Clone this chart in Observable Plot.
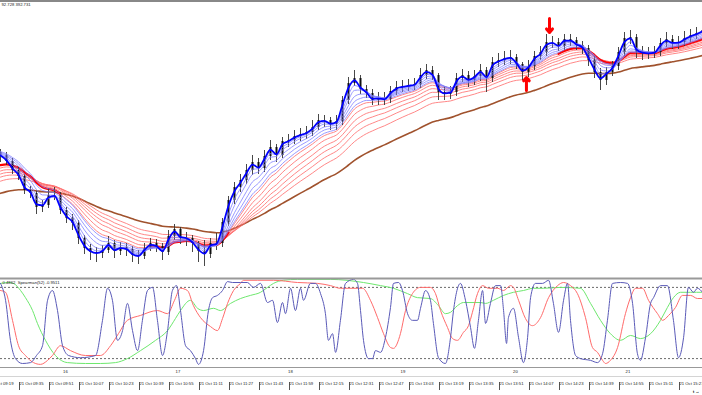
<!DOCTYPE html>
<html><head><meta charset="utf-8">
<script src="https://cdn.jsdelivr.net/npm/d3@7"></script>
<script src="https://cdn.jsdelivr.net/npm/@observablehq/plot@0.6"></script>
<style>
body{margin:0;background:#fff}
#c{position:relative;width:702px;height:395px;overflow:hidden;font-family:"Liberation Sans",sans-serif;background:#fff}
#c > div{position:absolute;left:0}
</style></head><body>
<div id="c"><div id="p1" style="top:0"></div><div id="p2" style="top:276px"></div><div id="sep" style="top:376px;width:702px;height:1px;background:#d4d4d4"></div></div>
<script>
// ---- price bars (3.2-minute samples starting 09:25.4) ----
const barStart = 25.4;      // minutes after 09:00
const barMinutes = 3.2;
const firstOpen = 128;
const closes = [125,119,110,104,90,87,73,75,85,85,
 70,62,57,42,32,28,27,30,37,29,
 33,31,25,24,32,37,34,28,44,51,
 42,42,37,29,26,37,37,58,80,93,
 100,110,118,112,124,133,125,139,140,144,
 146,148,153,160,160,156,159,180,197,202,
 191,187,180,182,181,189,193,194,195,196,
 205,210,205,188,186,188,202,205,200,204,
 210,202,218,220,222,223,216,208,214,224,
 228,238,238,234,241,240,235,232,220,208,
 200,208,214,228,242,243,228,227,227,228,
 237,241,237,238,242,245,247,250];
const highs = [131,128,122,113,106,94,89,80,92,93,
 88,73,66,60,45,36,33,35,44,40,
 38,37,34,30,37,42,41,37,50,56,
 53,48,45,39,40,42,47,62,84,98,
 106,116,125,122,130,140,136,143,146,150,
 152,154,160,166,165,163,165,184,203,210,
 205,195,191,188,188,194,199,200,201,202,
 212,216,214,207,194,194,207,211,209,210,
 216,213,223,227,229,230,226,218,220,229,
 234,246,244,242,246,246,243,239,235,224,
 212,213,219,233,248,250,246,234,233,234,
 242,248,245,244,249,251,253,256];
const lows = [118,115,106,100,86,82,66,68,72,80,
 66,57,50,36,26,20,18,22,27,22,
 25,24,18,16,21,29,28,20,25,40,
 36,34,28,18,14,22,30,33,54,76,
 88,96,105,106,108,120,118,122,133,136,
 139,141,144,150,153,150,150,155,176,194,
 186,182,175,175,175,177,185,188,189,190,
 192,201,200,180,180,181,184,198,193,195,
 199,188,198,213,215,216,211,200,203,210,
 220,224,232,229,230,234,230,226,214,202,
 190,195,204,210,224,236,222,220,221,222,
 224,233,231,231,234,238,241,243];

// GMMA periods (in 3.2-minute samples) and starting values read at left edge
const shortPeriods = [1.5, 2.5, 3.5, 5, 6.5, 8];
const shortSeeds   = [125, 126, 127, 128, 129, 130];
const longPeriods  = [9, 11, 13.5, 16, 19, 23];
const longSeeds    = [113, 110, 107, 104, 101, 97];
const trendPeriod = 36, trendSeed = 85;
// time windows (minutes after 09:00) where the fast long average is drawn bold
const boldRedStart = [25.4, 105, 321];
const boldRedEnd   = [58, 150, 400];

// arrow signals
const signalTimes = [318.2, 305.9];
const signalFrom  = [262, 190];
const signalTo    = [248, 203];

// ---- Spearman panel ----
const blueT = [25.4,28.1,30.7,33.4,37.1,41.4,44.6,47.8,50.5,53.1,55.8,58.5,61.7,68.1,76.1,79.8,82.5,85.1,87.8,90.5,93.1,95.8,98.5,101.1,103.8,106.5,109.1,111.8,114.5,117.1,119.3,121.4,124.1,126.7,129.4,131.0,133.7,136.3,138.5,141.1,143.8,146.5,149.1,153.4,157.1,160.3,164.1,167.8,170.5,173.1,175.8,177.4,180.1,182.7,185.4,187.0,190.7,193.4,196.1,198.7,200.3,202.5,204.1,206.7,209.4,213.7,215.8,217.4,219.0,221.7,223.8,225.4,228.1,230.7,233.4,235.0,237.7,239.8,242.5,245.1,247.8,249.4,252.1,254.7,256.3,259.0,262.7,265.4,267.0,270.7,273.4,276.1,278.2,280.3,282.5,284.1,286.7,289.4,292.1,293.7,295.3,296.3,299.0,301.7,304.3,306.5,308.1,310.7,314.5,317.7,320.3,323.0,325.7,327.8,329.4,332.1,334.7,340.1,343.8,346.5,349.1,351.8,356.1,359.8,362.5,365.1,366.7,369.4,372.1,373.7,377.4,381.1,384.3,387.0,389.7,392.3,395.0,397.1,399.8];
const blueV = [0.89,0.51,-0.39,-0.80,-0.91,-0.89,-0.73,-0.51,0.51,0.73,0.28,-0.51,-0.73,-0.78,-0.73,0.06,0.78,0.51,-0.39,-0.17,0.44,-0.17,-0.62,0.06,0.73,0.80,0.06,-0.73,-0.17,0.73,0.84,0.28,-0.51,-0.62,-0.80,-0.93,-0.62,0.28,0.57,0.62,0.73,0.93,0.91,0.91,0.91,0.80,0.89,0.46,0.51,0.01,0.46,0.21,0.78,0.28,0.78,0.51,0.89,0.89,0.66,0.21,-0.39,-0.24,-0.66,0.06,0.89,0.98,0.89,0.28,-0.39,-0.80,-0.80,-0.62,-0.66,-0.33,0.35,0.89,0.91,0.73,0.21,0.06,0.06,0.33,0.73,0.51,-0.01,-0.78,-0.91,-0.33,0.28,0.89,0.51,-0.10,-0.57,0.06,0.73,-0.01,0.44,0.84,0.84,0.28,-0.46,0.12,0.33,-0.33,-0.89,-0.33,0.57,0.89,0.89,0.96,0.44,-0.21,0.51,0.89,0.06,-0.73,-0.80,-0.84,-0.89,-0.69,0.06,0.89,0.91,0.89,0.44,-0.69,-0.84,-0.33,0.44,0.57,0.84,0.84,0.06,-0.78,-0.33,0.80,0.69,0.78,0.69];
const redT = [25.4,28.1,31.8,35.0,38.7,43.0,46.7,50.5,53.1,57.4,62.7,70.7,78.7,84.1,88.3,93.1,100.1,109.1,114.5,118.2,121.4,125.1,128.3,132.1,137.4,141.1,143.8,146.5,149.7,153.4,155.0,162.5,171.0,183.8,194.5,201.4,206.7,218.5,222.7,226.5,229.7,233.4,235.0,238.7,241.4,245.1,249.4,254.7,257.4,260.1,263.8,266.5,269.1,272.3,275.0,277.1,279.8,282.5,285.7,290.5,293.7,297.4,299.0,301.7,305.4,309.1,313.4,317.7,322.5,325.7,329.4,333.1,337.4,341.1,343.8,346.5,348.1,350.7,354.5,358.7,361.4,364.1,367.8,371.0,375.8,378.5,381.7,385.4,389.1,393.4,397.1,399.8];
const redV = [0.73,0.69,0.06,-0.51,-0.73,-0.89,-0.93,-0.84,-0.73,-0.51,-0.62,-0.73,-0.73,-0.51,-0.24,0.06,0.17,0.28,0.21,0.51,0.78,0.73,0.39,0.12,-0.08,-0.17,0.10,0.44,0.73,0.89,0.96,0.96,0.96,0.91,0.89,0.84,0.78,0.78,0.51,0.12,-0.24,-0.55,-0.57,-0.24,0.28,0.66,0.80,0.80,0.66,0.28,-0.10,-0.35,-0.39,-0.21,-0.06,0.24,0.66,0.84,0.78,0.78,0.73,0.84,0.80,0.51,0.10,-0.06,0.12,0.57,0.84,0.91,0.84,0.66,0.12,-0.55,-0.66,-0.84,-0.91,-0.84,-0.55,0.21,0.57,0.78,0.78,0.51,0.21,0.06,0.17,0.35,0.62,0.62,0.55,0.55];
const greenT = [25.4,29.7,32.3,36.1,38.7,42.5,45.1,49.4,54.7,61.1,70.7,78.7,86.7,93.1,100.1,108.1,114.5,118.7,121.4,126.7,130.5,133.7,139.0,142.7,148.1,153.4,158.7,164.1,167.8,171.0,176.3,183.8,201.4,219.0,228.1,235.0,242.5,247.8,254.7,259.0,262.7,265.4,269.1,272.3,281.4,284.1,288.3,293.7,299.0,304.3,309.7,315.0,324.1,334.7,340.1,345.4,350.7,356.1,361.4,366.7,372.1,377.4,381.1,384.3,388.1,393.4,399.8];
const greenV = [0.89,0.91,0.89,0.73,0.57,0.28,-0.01,-0.39,-0.73,-0.89,-0.91,-0.91,-0.89,-0.80,-0.62,-0.39,-0.17,0.10,0.28,0.51,0.33,0.28,0.33,0.28,0.44,0.55,0.62,0.69,0.80,0.89,0.96,0.98,0.98,0.91,0.84,0.78,0.66,0.57,0.55,0.39,0.21,0.24,0.39,0.46,0.46,0.44,0.51,0.62,0.69,0.73,0.78,0.78,0.80,0.78,0.44,0.06,-0.24,-0.39,-0.28,-0.35,-0.24,0.06,0.35,0.57,0.69,0.69,0.69];
const levels = [0.8, -0.8];

// ---- texts ----
const headerText = "92.728 392.731";
const panelText = "0.4862  Spearman(52) -0.9511";
const timeLabels = ["21 Oct 09:19","21 Oct 09:35","21 Oct 09:51","21 Oct 10:07","21 Oct 10:23","21 Oct 10:39","21 Oct 10:55","21 Oct 11:11","21 Oct 11:27","21 Oct 11:43","21 Oct 11:59","21 Oct 12:15","21 Oct 12:31","21 Oct 12:47","21 Oct 13:03","21 Oct 13:19","21 Oct 13:35","21 Oct 13:51","21 Oct 14:07","21 Oct 14:23","21 Oct 14:39","21 Oct 14:55","21 Oct 15:11","21 Oct 15:27"];
const dayTimes = ["10:00","11:00","12:00","13:00","14:00","15:00"];
const dayLabels = ["16","17","18","19","20","21"];

// ---------------------------------------------------------------
const toMin = s => { const [h, m] = s.slice(-5).split(":").map(Number); return (h - 9) * 60 + m; };
const xDomain = [25.4, 399.8];
const font = {fontFamily: "Liberation Sans, Arial, sans-serif", fontSize: "4.2px", color: "#222", background: "transparent", overflow: "visible"};

const bars = closes.map((c, i) => ({t: barStart + i * barMinutes, o: i ? closes[i - 1] : firstOpen, h: highs[i], l: lows[i], c}));
function ema(n, seed) {
  const a = 2 / (n + 1); let e = seed;
  return closes.map((c, i) => { e = e + a * (c - e); return {t: bars[i].t, v: e}; });
}
const shortLines = shortPeriods.map((n, k) => ema(n, shortSeeds[k]));
const longLines = longPeriods.map((n, k) => ema(n, longSeeds[k]));
const trendLine = ema(trendPeriod, trendSeed);
const signals = signalTimes.map((t, i) => ({t, from: signalFrom[i], to: signalTo[i]}));
const inBold = t => boldRedStart.some((s, k) => t >= s && t <= boldRedEnd[k]);

const pricePlot = Plot.plot({
  width: 702, height: 277, margin: 0,
  style: font,
  x: {domain: xDomain, axis: null},
  y: {domain: [3, 280], axis: null},
  marks: [
    Plot.line(trendLine, {x: "t", y: "v", stroke: "#a0522d", strokeWidth: 1.6, curve: "monotone-x"}),
    ...longLines.map(L => Plot.line(L, {x: "t", y: "v", stroke: "#ff6a6a", strokeWidth: 0.8, curve: "monotone-x"})),
    Plot.line(longLines[0], {x: "t", y: d => inBold(d.t) ? d.v : NaN, stroke: "#ff0000", strokeWidth: 2.2, curve: "monotone-x"}),
    Plot.ruleX(bars, {x: "t", y1: "l", y2: "h", stroke: "#333", strokeWidth: 0.9}),
    Plot.ruleX(bars, {x: "t", y1: "o", y2: "c", stroke: "#111", strokeWidth: 2}),
    ...shortLines.slice(1).map(L => Plot.line(L, {x: "t", y: "v", stroke: "#8080ff", strokeWidth: 0.8, curve: "monotone-x"})),
    Plot.line(shortLines[0], {x: "t", y: "v", stroke: "#0000ff", strokeWidth: 1.8, curve: "monotone-x"}),
    Plot.arrow(signals, {x1: "t", x2: "t", y1: "from", y2: "to", stroke: "#ff0000", strokeWidth: 3, headLength: 7, headAngle: 80}),
    Plot.text([headerText], {text: d => d, frameAnchor: "top-left", dx: 1, dy: 3, textAnchor: "start", lineAnchor: "top", fill: "#222"}),
    Plot.frame({anchor: "top", stroke: "#888", strokeWidth: 3})
  ]
});
document.getElementById("p1").append(pricePlot);

const series = (T, V) => T.map((t, i) => ({t, v: V[i]}));
const timeTicks = timeLabels.map(toMin);
const timeLabelOf = new Map(timeTicks.map((t, i) => [t, timeLabels[i]]));
const dayTicks = dayTimes.map(toMin);
const dayLabelOf = new Map(dayTicks.map((t, i) => [t, dayLabels[i]]));

const oscPlot = Plot.plot({
  width: 702, height: 119, marginTop: 2, marginBottom: 28, marginLeft: 0, marginRight: 0,
  style: font,
  x: {domain: xDomain, axis: null},
  y: {domain: [-1, 1], axis: null},
  marks: [
    Plot.ruleY(levels, {stroke: "#444", strokeWidth: 0.8, strokeDasharray: "2,2"}),
    Plot.line(series(greenT, greenV), {x: "t", y: "v", stroke: "#6ee86e", strokeWidth: 1, curve: "monotone-x", clip: true}),
    Plot.line(series(redT, redV), {x: "t", y: "v", stroke: "#ff6b6b", strokeWidth: 1, curve: "monotone-x", clip: true}),
    Plot.line(series(blueT, blueV), {x: "t", y: "v", stroke: "#5a5ab8", strokeWidth: 1, curve: "monotone-x", clip: true}),
    Plot.text([panelText], {text: d => d, frameAnchor: "top-left", dx: 2, dy: 3, textAnchor: "start", lineAnchor: "top", fill: "#222"}),
    Plot.frame({anchor: "top", stroke: "#999", strokeWidth: 2}),
    Plot.frame({anchor: "bottom", stroke: "#999", strokeWidth: 1}),
    Plot.axisX(dayTicks, {anchor: "bottom", tickSize: 0, tickPadding: 1, dy: 1.5, tickFormat: d => dayLabelOf.get(d), fill: "#222"}),
    Plot.axisX(timeTicks, {anchor: "bottom", tickSize: 8, tickPadding: -8, dy: 15, dx: 1, textAnchor: "start", tickFormat: d => timeLabelOf.get(d), stroke: "#555", fill: "#222"})
  ]
});
document.getElementById("p2").append(oscPlot);
</script>
</body></html>
